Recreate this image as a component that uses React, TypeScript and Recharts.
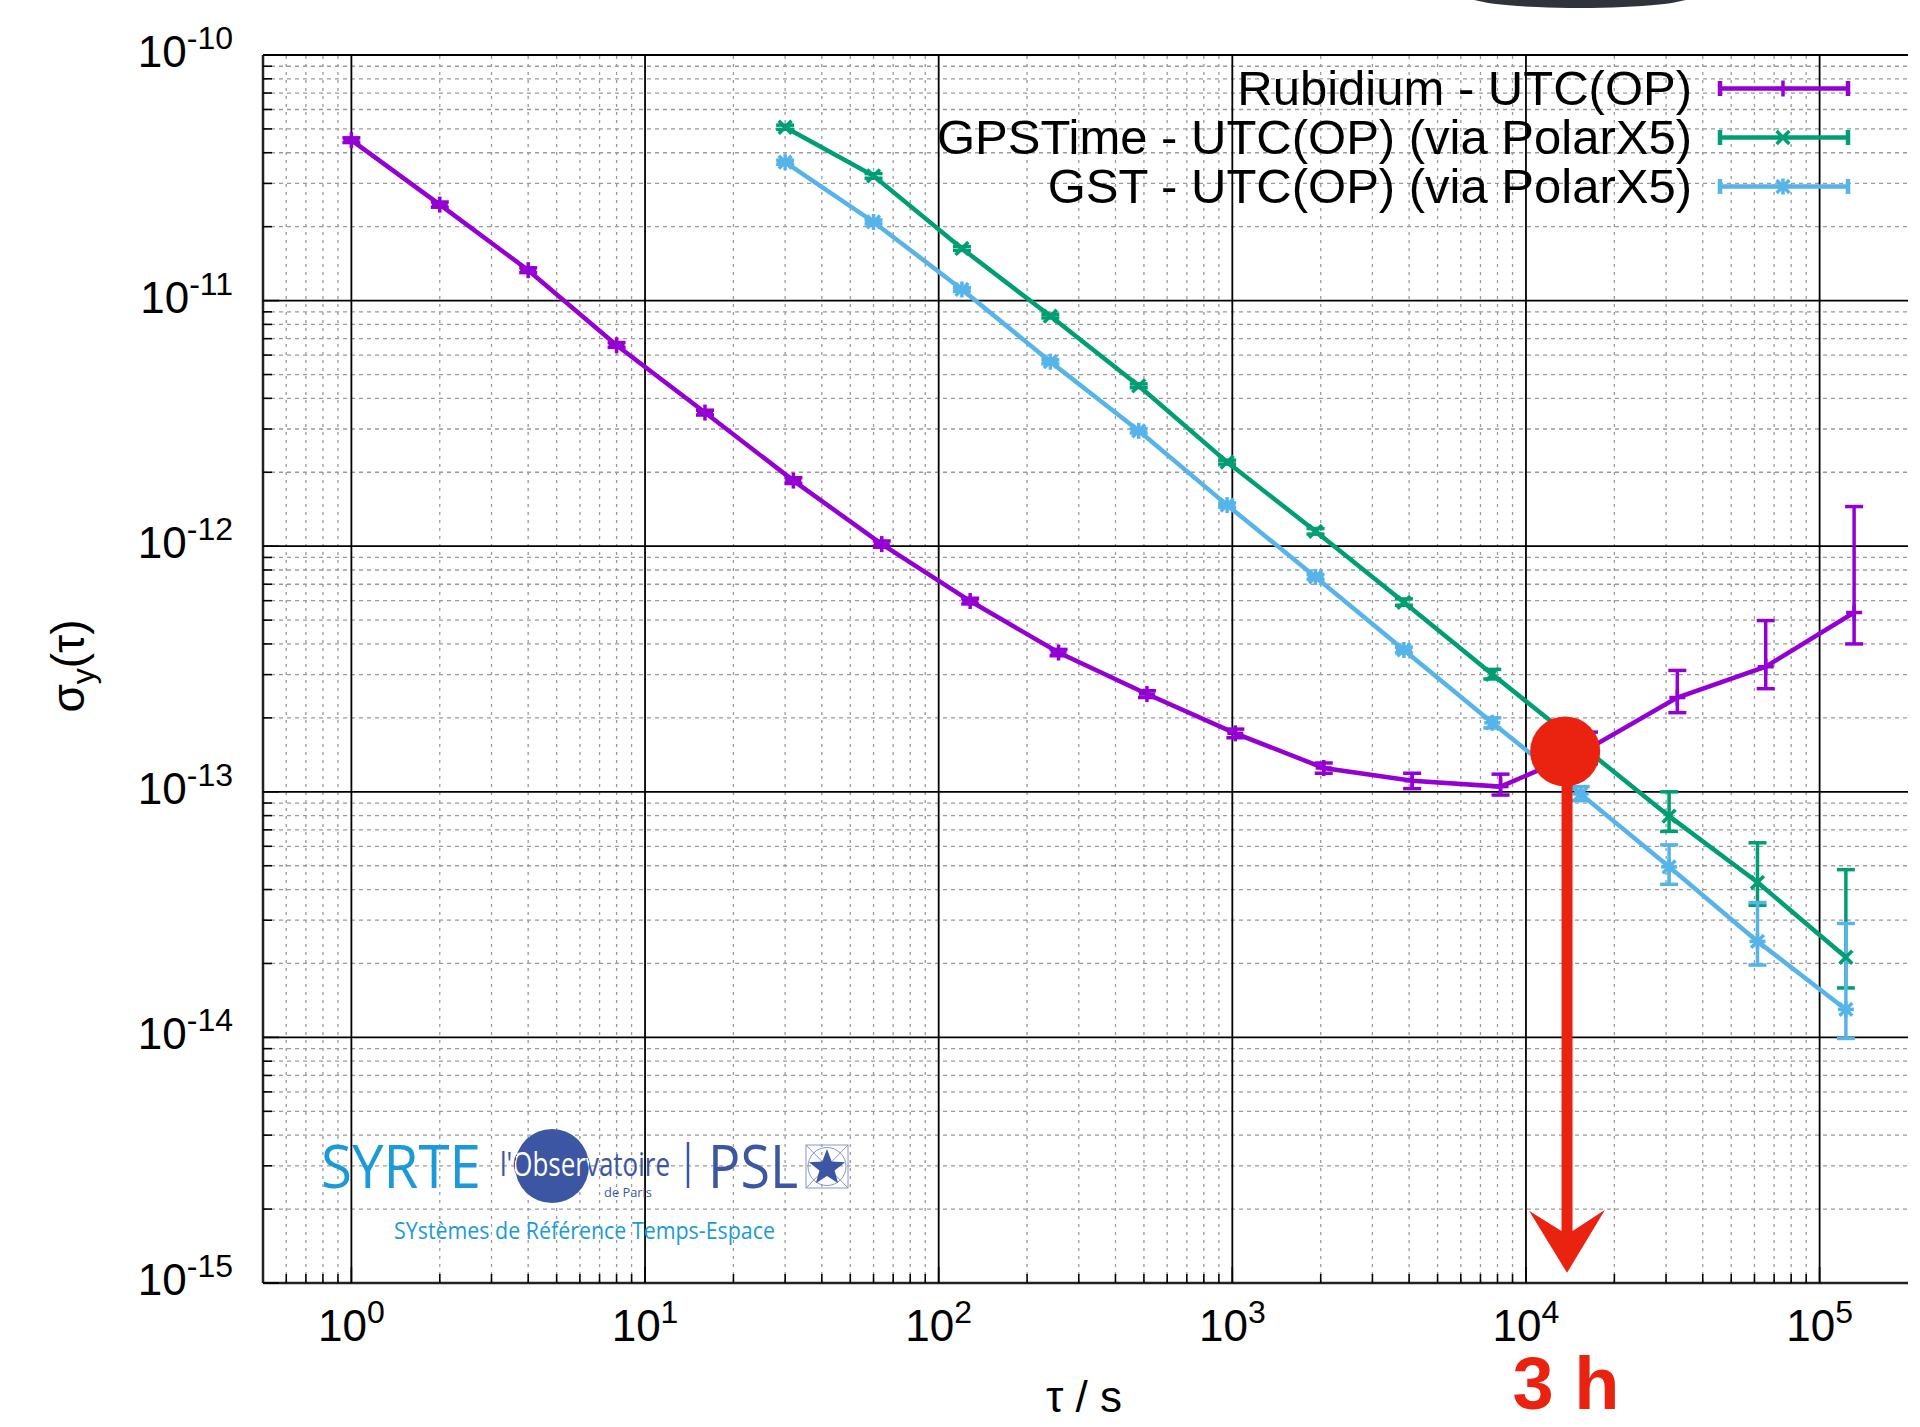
import React from 'react';
import {
  ComposedChart,
  Scatter,
  XAxis,
  YAxis,
  ErrorBar,
  ReferenceLine,
  ReferenceDot,
  Legend,
} from 'recharts';

const FONT = '"Liberation Sans", Arial, Helvetica, sans-serif';

// Allan deviation (tau in s)
const rbTau = [1, 2, 4, 8, 16, 32, 64, 128, 256, 512, 1024, 2048, 4096, 8192, 16384, 32768, 65536, 131072];
const rbAdev = [4.5e-11, 2.46e-11, 1.33e-11, 6.58e-12, 3.5e-12, 1.85e-12, 1.02e-12, 5.98e-13, 3.69e-13, 2.5e-13, 1.73e-13, 1.25e-13, 1.11e-13, 1.05e-13, 1.5e-13, 2.42e-13, 3.23e-13, 5.37e-13];
const rbLow = [4.4e-11, 2.4e-11, 1.3e-11, 6.45e-12, 3.42e-12, 1.8e-12, 0.99e-12, 5.82e-13, 3.58e-13, 2.42e-13, 1.66e-13, 1.19e-13, 1.03e-13, 0.97e-13, 1.3e-13, 2.1e-13, 2.63e-13, 4.0e-13];
const rbHigh = [4.6e-11, 2.52e-11, 1.36e-11, 6.75e-12, 3.58e-12, 1.9e-12, 1.05e-12, 6.14e-13, 3.8e-13, 2.58e-13, 1.8e-13, 1.31e-13, 1.19e-13, 1.18e-13, 1.75e-13, 3.12e-13, 4.98e-13, 1.45e-12];

const gpsTau = [30, 60, 120, 240, 480, 960, 1920, 3840, 7680, 15360, 30720, 61440, 122880];
const gpsAdev = [5.08e-11, 3.22e-11, 1.63e-11, 8.65e-12, 4.5e-12, 2.2e-12, 1.15e-12, 5.91e-13, 3.01e-13, 1.55e-13, 7.96e-14, 4.28e-14, 2.12e-14];
const gpsLow = [4.98e-11, 3.15e-11, 1.6e-11, 8.5e-12, 4.42e-12, 2.16e-12, 1.12e-12, 5.75e-13, 2.88e-13, 1.45e-13, 6.9e-14, 3.45e-14, 1.59e-14];
const gpsHigh = [5.18e-11, 3.29e-11, 1.66e-11, 8.8e-12, 4.58e-12, 2.24e-12, 1.18e-12, 6.1e-13, 3.15e-13, 1.66e-13, 1.0e-13, 6.2e-14, 4.82e-14];

const gstTau = [30, 60, 120, 240, 480, 960, 1920, 3840, 7680, 15360, 30720, 61440, 122880];
const gstAdev = [3.66e-11, 2.09e-11, 1.11e-11, 5.64e-12, 2.95e-12, 1.47e-12, 7.5e-13, 3.78e-13, 1.91e-13, 9.8e-14, 4.95e-14, 2.46e-14, 1.3e-14];
const gstLow = [3.59e-11, 2.05e-11, 1.09e-11, 5.53e-12, 2.89e-12, 1.44e-12, 7.33e-13, 3.68e-13, 1.82e-13, 9.2e-14, 4.2e-14, 1.97e-14, 0.99e-14];
const gstHigh = [3.73e-11, 2.13e-11, 1.13e-11, 5.75e-12, 3.01e-12, 1.5e-12, 7.67e-13, 3.88e-13, 2.0e-13, 1.05e-13, 6.08e-14, 3.54e-14, 2.91e-14];

const seriesNames = [
  'Rubidium - UTC(OP)',
  'GPSTime - UTC(OP) (via PolarX5)',
  'GST - UTC(OP) (via PolarX5)',
];
const seriesColors = ['#9400d3', '#009e73', '#56b4e9'];
const seriesMarkers = ['plus', 'cross', 'star'];

// axes
const xDomain = [0.5, 2e5];
const yDomain = [1e-15, 1e-10];
const xDecades = [0.1, 1, 10, 100, 1000, 10000, 100000];
const yDecades = [1e-15, 1e-14, 1e-13, 1e-12, 1e-11, 1e-10];
const minorSteps = [2, 3, 4, 5, 6, 7, 8, 9];

// highlighted crossing (~3 h)
const markTau = 13600;
const markAdev = 1.46e-13;
const arrowTau = 13800;
const arrowEnd = 1.1e-15;

const xMajor = xDecades.filter((v) => v >= xDomain[0] && v <= xDomain[1]);
const xMinor = xDecades
  .flatMap((d) => minorSteps.map((m) => m * d))
  .filter((v) => v > xDomain[0] && v < xDomain[1]);
const yMajor = yDecades;
const yMinor = yDecades
  .slice(0, -1)
  .flatMap((d) => minorSteps.map((m) => m * d));
const xTicks = [...xMajor, ...xMinor];
const yTicks = [...yMajor, ...yMinor];

const toPoints = (tau: number[], adev: number[], lo: number[], hi: number[]) =>
  tau.map((t, i) => ({ tau: t, adev: adev[i], err: [adev[i] - lo[i], hi[i] - adev[i]] }));

const rbData = toPoints(rbTau, rbAdev, rbLow, rbHigh);
const gpsData = toPoints(gpsTau, gpsAdev, gpsLow, gpsHigh);
const gstData = toPoints(gstTau, gstAdev, gstLow, gstHigh);

const isDecade = (v: number) => Math.abs(Math.log10(v) - Math.round(Math.log10(v))) < 1e-6;
const expOf = (v: number) => String(Math.round(Math.log10(v)));

// marker glyphs, like gnuplot pt 1/2/3
function Marker({ cx, cy, kind, color, s = 8 }: { cx: number; cy: number; kind: string; color: string; s?: number }) {
  const plus = (
    <>
      <line x1={cx - s} x2={cx + s} y1={cy} y2={cy} />
      <line x1={cx} x2={cx} y1={cy - s} y2={cy + s} />
    </>
  );
  const cross = (
    <>
      <line x1={cx - s * 0.8} x2={cx + s * 0.8} y1={cy - s * 0.8} y2={cy + s * 0.8} />
      <line x1={cx - s * 0.8} x2={cx + s * 0.8} y1={cy + s * 0.8} y2={cy - s * 0.8} />
    </>
  );
  return (
    <g stroke={color} strokeWidth={3.5} fill="none">
      {kind === 'plus' && plus}
      {kind === 'cross' && cross}
      {kind === 'star' && (
        <>
          {plus}
          {cross}
        </>
      )}
    </g>
  );
}

const BottomTick = ({ x, y, payload }: any) => {
  const major = isDecade(payload.value);
  return (
    <g>
      <line x1={x} x2={x} y1={y} y2={y - (major ? 16 : 9)} stroke="#000" strokeWidth={1.6} />
      {major && (
        <text x={x} y={y + 58} textAnchor="middle" fontFamily={FONT} fontSize={44} fill="#000">
          10
          <tspan dy={-18} fontSize={32}>
            {expOf(payload.value)}
          </tspan>
        </text>
      )}
    </g>
  );
};

const TopTick = ({ x, y, payload }: any) => {
  const major = isDecade(payload.value);
  return <line x1={x} x2={x} y1={y} y2={y + (major ? 16 : 9)} stroke="#000" strokeWidth={1.6} />;
};

const LeftTick = ({ x, y, payload }: any) => {
  const major = isDecade(payload.value);
  return (
    <g>
      <line x1={x} x2={x + (major ? 16 : 9)} y1={y} y2={y} stroke="#000" strokeWidth={1.6} />
      {major && (
        <text x={x - 30} y={y + 12} textAnchor="end" fontFamily={FONT} fontSize={44} fill="#000">
          10
          <tspan dy={-18} fontSize={32}>
            {expOf(payload.value)}
          </tspan>
        </text>
      )}
    </g>
  );
};

const RightTick = ({ x, y, payload }: any) => {
  const major = isDecade(payload.value);
  return <line x1={x} x2={x - (major ? 16 : 9)} y1={y} y2={y} stroke="#000" strokeWidth={1.6} />;
};

// hand-drawn style red arrow down to the time axis
const ArrowShape = (props: any) => {
  const { x1, y1, x2, y2 } = props;
  return (
    <g>
      <line x1={x1} y1={y1} x2={x2} y2={y2 - 40} stroke="#ea2310" strokeWidth={11} />
      <polygon
        points={`${x2 - 38},${y2 - 62} ${x2 - 6},${y2 - 42} ${x2 + 6},${y2 - 42} ${x2 + 38},${y2 - 63} ${x2},${y2}`}
        fill="#ea2310"
      />
    </g>
  );
};

const LegendBox = () => (
  <div style={{ display: 'flex', flexDirection: 'column', alignItems: 'flex-end' }}>
    {seriesNames.map((name, i) => (
      <div key={name} style={{ display: 'flex', alignItems: 'center', height: 49 }}>
        <span style={{ fontFamily: FONT, fontSize: 49, lineHeight: '49px', color: '#000', whiteSpace: 'nowrap' }}>
          {name}
        </span>
        <svg width={136} height={49} style={{ marginLeft: 24 }}>
          <g stroke={seriesColors[i]} strokeWidth={4.5}>
            <line x1={4} x2={132} y1={24.5} y2={24.5} />
            <line x1={4} x2={4} y1={17} y2={32} />
            <line x1={132} x2={132} y1={17} y2={32} />
          </g>
          <Marker cx={67} cy={24.5} kind={seriesMarkers[i]} color={seriesColors[i]} s={8} />
        </svg>
      </div>
    ))}
  </div>
);

const starPoints = (cx: number, cy: number, ro: number, ri: number) =>
  Array.from({ length: 10 }, (_, k) => {
    const a = -Math.PI / 2 + (k * Math.PI) / 5;
    const r = k % 2 === 0 ? ro : ri;
    return `${cx + r * Math.cos(a)},${cy + r * Math.sin(a)}`;
  }).join(' ');

export default function App() {
  const series = [rbData, gpsData, gstData];
  return (
    <div style={{ position: 'absolute', left: 0, top: 0, width: 1920, height: 1427, background: '#fff' }}>
      <ComposedChart width={1920} height={1427} margin={{ top: 55, right: 12, bottom: 0, left: 0 }}>
        <XAxis
          dataKey="tau"
          type="number"
          scale="log"
          domain={xDomain}
          allowDataOverflow
          ticks={xTicks}
          interval={0}
          tick={(p: any) => <BottomTick {...p} />}
          tickSize={0}
          tickMargin={0}
          tickLine={false}
          axisLine={{ stroke: '#222', strokeWidth: 2.5 }}
          height={144}
        />
        <XAxis
          xAxisId="top"
          orientation="top"
          type="number"
          scale="log"
          domain={xDomain}
          allowDataOverflow
          ticks={xTicks}
          interval={0}
          tick={(p: any) => <TopTick {...p} />}
          tickSize={0}
          tickMargin={0}
          tickLine={false}
          axisLine={{ stroke: '#222', strokeWidth: 2.5 }}
          height={0}
        />
        <YAxis
          dataKey="adev"
          type="number"
          scale="log"
          domain={yDomain}
          allowDataOverflow
          ticks={yTicks}
          interval={0}
          tick={(p: any) => <LeftTick {...p} />}
          tickSize={0}
          tickMargin={0}
          tickLine={false}
          axisLine={{ stroke: '#222', strokeWidth: 2.5 }}
          width={263}
        />
        <YAxis
          yAxisId="right"
          orientation="right"
          type="number"
          scale="log"
          domain={yDomain}
          allowDataOverflow
          ticks={yTicks}
          interval={0}
          tick={(p: any) => <RightTick {...p} />}
          tickSize={0}
          tickMargin={0}
          tickLine={false}
          axisLine={{ stroke: '#222', strokeWidth: 2.5 }}
          width={0}
        />

        {/* minor grid */}
        {xMinor.map((v) => (
          <ReferenceLine key={`xm${v}`} x={v} stroke="#9a9a9a" strokeWidth={1.3} strokeDasharray="3 5" zIndex={-50} />
        ))}
        {yMinor.map((v) => (
          <ReferenceLine key={`ym${v}`} y={v} stroke="#9a9a9a" strokeWidth={1.3} strokeDasharray="4 4" zIndex={-50} />
        ))}
        {/* major grid */}
        {xMajor.map((v) => (
          <ReferenceLine key={`xM${v}`} x={v} stroke="#000" strokeWidth={1.8} zIndex={-40} />
        ))}
        {yMajor.map((v) => (
          <ReferenceLine key={`yM${v}`} y={v} stroke="#000" strokeWidth={1.8} zIndex={-40} />
        ))}

        {series.map((data, i) => (
          <Scatter
            key={seriesNames[i]}
            name={seriesNames[i]}
            data={data}
            fill={seriesColors[i]}
            line={{ stroke: seriesColors[i], strokeWidth: 4.5 }}
            lineType="joint"
            shape={(p: any) => <Marker cx={p.cx} cy={p.cy} kind={seriesMarkers[i]} color={seriesColors[i]} />}
            isAnimationActive={false}
          >
            <ErrorBar dataKey="err" direction="y" width={9} stroke={seriesColors[i]} strokeWidth={3.5} isAnimationActive={false} />
          </Scatter>
        ))}

        <ReferenceLine
          segment={[
            { x: arrowTau, y: markAdev },
            { x: arrowTau, y: arrowEnd },
          ]}
          shape={ArrowShape}
          zIndex={1500}
        />
        <ReferenceDot x={markTau} y={markAdev} r={35} fill="#ea2310" stroke="none" zIndex={1600} />

        <Legend
          layout="horizontal"
          verticalAlign="middle"
          align="center"
          content={() => <LegendBox />}
          wrapperStyle={{ top: 64, left: 880, width: 972, height: 'auto', right: 'auto', bottom: 'auto' }}
        />
      </ComposedChart>

      <svg
        width={1920}
        height={1427}
        style={{ position: 'absolute', left: 0, top: 0, pointerEvents: 'none' }}
      >
        <defs>
          {/* white where the text crosses the blue disc */}
          <radialGradient id="obsFill" gradientUnits="userSpaceOnUse" cx={552} cy={1166} r={37}>
            <stop offset="0.995" stopColor="#ffffff" />
            <stop offset="1" stopColor="#3d56a4" />
          </radialGradient>
        </defs>
        <ellipse cx={1580} cy={-4} rx={112} ry={12} fill="#2f343a" />

        {/* axis titles */}
        <text transform="translate(84,666) rotate(-90)" textAnchor="middle" fontFamily={FONT} fontSize={46} fill="#000">
          σ
          <tspan fontSize={32} dy={10}>
            y
          </tspan>
          <tspan dy={-10}>(τ)</tspan>
        </text>
        <text x={1084} y={1412} textAnchor="middle" fontFamily={FONT} fontSize={44} fill="#000">
          τ / s
        </text>
        <text x={1566} y={1409} textAnchor="middle" fontFamily={FONT} fontWeight="bold" fontSize={74} fill="#ea2310">
          3 h
        </text>

        {/* lab logo */}
        <text x={321} y={1188} fontFamily='"Open Sans", sans-serif' fontSize={60} fill="#1b9ad7" textLength={160} lengthAdjust="spacingAndGlyphs">
          SYRTE
        </text>
        <circle cx={552} cy={1166} r={37} fill="#3d56a4" />
        <text x={500} y={1176} fontFamily='"Open Sans", sans-serif' fontSize={32} fill="url(#obsFill)" textLength={170} lengthAdjust="spacingAndGlyphs">
          l'Observatoire
        </text>
        <text x={604} y={1197} fontFamily='"Open Sans", sans-serif' fontSize={12} fill="#3d56a4" textLength={48} lengthAdjust="spacingAndGlyphs">
          de Paris
        </text>
        <line x1={688} x2={688} y1={1142} y2={1188} stroke="#3d56a4" strokeWidth={2.5} />
        <text x={708} y={1188} fontFamily='"Open Sans", sans-serif' fontSize={60} fill="#3d56a4" textLength={90} lengthAdjust="spacingAndGlyphs">
          PSL
        </text>
        <g stroke="#8796cc" strokeWidth={1} fill="none">
          <rect x={806} y={1145} width={42} height={43} />
          <line x1={806} y1={1145} x2={848} y2={1188} />
          <line x1={848} y1={1145} x2={806} y2={1188} />
          <circle cx={827} cy={1166.5} r={19} />
        </g>
        <polygon points={starPoints(827, 1168, 19, 8)} fill="#3d56a4" />
        <text x={394} y={1239} fontFamily='"Open Sans", sans-serif' fontSize={23} fill="#1b9ad7" textLength={381} lengthAdjust="spacingAndGlyphs">
          SYstèmes de Référence Temps-Espace
        </text>
      </svg>
    </div>
  );
}
